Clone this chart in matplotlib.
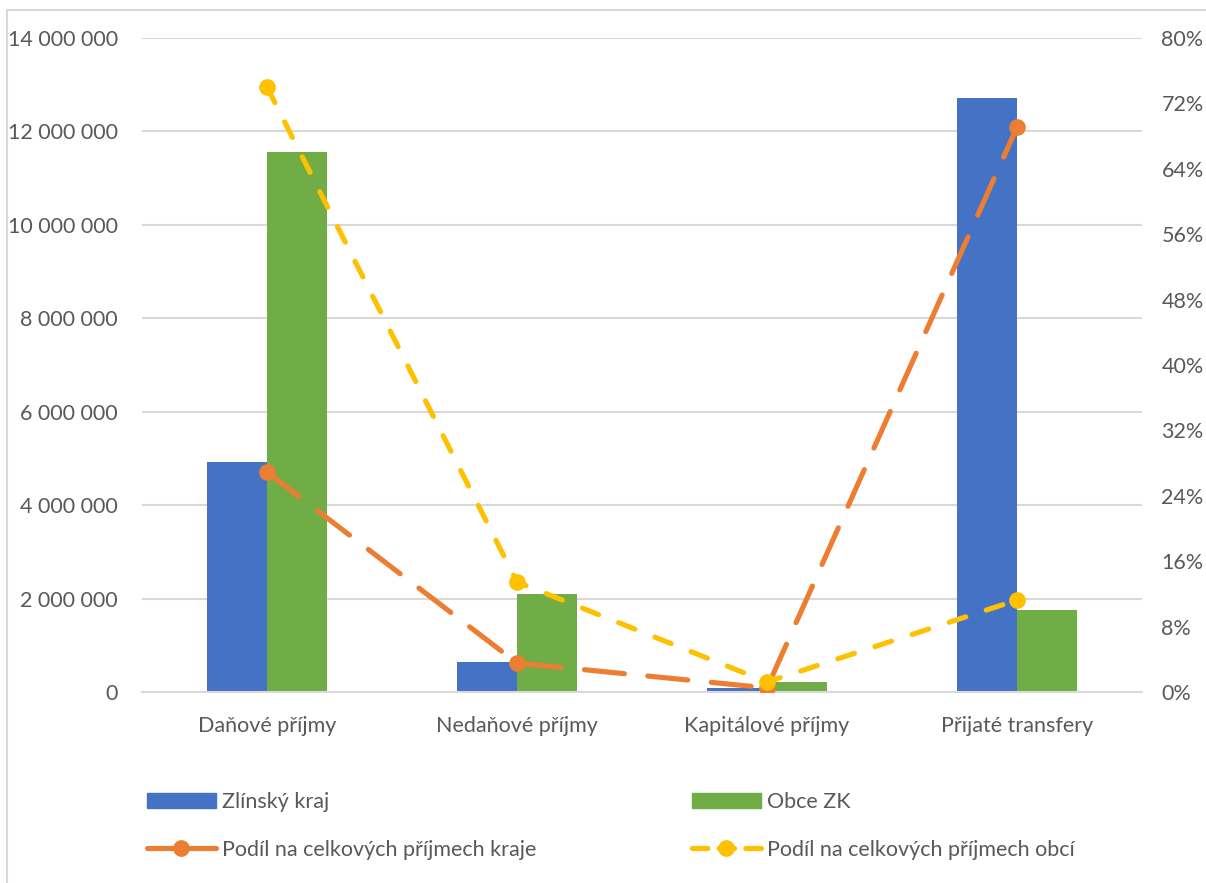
import matplotlib
matplotlib.use("Agg")
import matplotlib.pyplot as plt
from matplotlib.ticker import FuncFormatter, MultipleLocator
from matplotlib.lines import Line2D
from matplotlib.patches import Patch
import numpy as np

plt.rcParams['font.family'] = ['Lato', 'DejaVu Sans']

categories = ["Daňové příjmy", "Nedaňové příjmy", "Kapitálové příjmy", "Přijaté transfery"]
kraj = [4920000, 642000, 86000, 12720000]
obce = [11560000, 2100000, 210000, 1755000]
podil_kraj = [26.9, 3.55, 0.5, 69.1]
podil_obci = [74.0, 13.46, 1.22, 11.25]

series_names = ["Zlínský kraj", "Obce ZK",
                "Podíl na celkových příjmech kraje", "Podíl na celkových příjmech obcí"]

C_BLUE = "#4472c4"
C_GREEN = "#70ad47"
C_ORANGE = "#ed7d31"
C_YELLOW = "#ffc000"
C_TEXT = "#595959"
C_GRID = "#d9d9d9"
FS = 15.5
LW = 3.7
D_OR = (7.8, 4.6)
D_YE = (3.4, 4.2)
MS = 11

W, H = 1206, 883
fig = plt.figure(figsize=(W / 100, H / 100), dpi=100)
ax = fig.add_axes([142 / W, (H - 692) / H, 1000 / W, 654 / H])
ax2 = ax.twinx()

x = np.arange(len(categories))
bw = 0.24
ax.bar(x - bw / 2, kraj, bw, color=C_BLUE, zorder=2)
ax.bar(x + bw / 2, obce, bw, color=C_GREEN, zorder=2)

ax.set_xlim(-0.5, len(categories) - 0.5)
ax.set_ylim(0, 14000000)
ax.yaxis.set_major_locator(MultipleLocator(2000000))
ax.yaxis.set_major_formatter(FuncFormatter(lambda v, p: f"{int(v):,}".replace(",", " ")))
ax.grid(axis="y", color=C_GRID, linewidth=1.5, zorder=0)
ax.set_axisbelow(True)
for s in ["top", "right", "left"]:
    ax.spines[s].set_visible(False)
ax.spines["bottom"].set_color(C_GRID)
ax.spines["bottom"].set_linewidth(1.5)
ax.set_xticks(x)
ax.set_xticklabels(categories)
ax.tick_params(axis="both", length=0, labelsize=FS, colors=C_TEXT)
ax.tick_params(axis="x", pad=17)
ax.tick_params(axis="y", pad=17.5)

ax2.plot(x, podil_kraj, color=C_ORANGE, linewidth=LW, dashes=D_OR,
         dash_capstyle="round", marker="o", markersize=MS, zorder=3)
ax2.plot(x, podil_obci, color=C_YELLOW, linewidth=LW, dashes=D_YE,
         dash_capstyle="round", marker="o", markersize=MS, zorder=4)
ax2.set_ylim(0, 80)
ax2.yaxis.set_major_locator(MultipleLocator(8))
ax2.yaxis.set_major_formatter(FuncFormatter(lambda v, p: f"{int(round(v))}%"))
for s in ax2.spines.values():
    s.set_visible(False)
ax2.tick_params(axis="y", length=0, labelsize=FS, colors=C_TEXT, pad=14)

# legend entries
handles = [
    Patch(color=C_BLUE),
    Patch(color=C_GREEN),
    Line2D([0], [0], color=C_ORANGE, linewidth=LW, dashes=(6, 1.8), dash_capstyle="round",
           marker="o", markersize=MS),
    Line2D([0], [0], color=C_YELLOW, linewidth=LW, dashes=(3, 2.2), dash_capstyle="round",
           marker="o", markersize=MS),
]
positions = [(147, 802), (692, 802), (147, 850), (692, 850)]
for h, name, (px, py) in zip(handles, series_names, positions):
    fig.legend(handles=[h], labels=[name], loc="center left",
               bbox_to_anchor=(px / W, (H - py) / H), frameon=False,
               fontsize=FS, labelcolor=C_TEXT, handlelength=3.2,
               handleheight=0.7, handletextpad=0.3, borderpad=0, borderaxespad=0)

# chart border (top and left visible)
fig.add_artist(Line2D([7 / W, 1.0], [(H - 10) / H, (H - 10) / H], color=C_GRID, linewidth=1.5))
fig.add_artist(Line2D([7 / W, 7 / W], [0, (H - 10) / H], color=C_GRID, linewidth=1.5))

fig.savefig("out.png", dpi=100)
